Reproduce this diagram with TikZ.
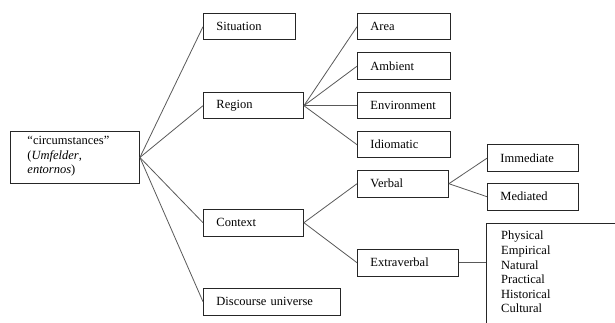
\documentclass[tikz,border=0pt]{standalone}
\usepackage{fontspec}
\setmainfont{Liberation Serif}
\usetikzlibrary{positioning}

\begin{document}
\begin{tikzpicture}[x=1pt,y=-1pt,font=\fontsize{12.5}{14.6}\selectfont,
					box line/.style={draw=black!85,line width=0.9pt},
					item node/.style={box line,rectangle,anchor=north west,align=left,inner xsep=13pt,inner ysep=0pt,text width=#1,minimum height=26.5pt},
					root node/.style={box line,rectangle,anchor=north west,align=left,text width=95pt,minimum width=129pt,minimum height=52pt,text depth=34pt},
					list node/.style={rectangle,anchor=north west,align=left,inner xsep=15pt,inner ysep=8pt,text width=100pt},
					link/.style={draw=black!65,line width=0.8pt}]
				\clip (0,0) rectangle (615,323);
				\node[root node] (root) at (10,131) {``circumstances''\\(\textit{Umfelder},\\\textit{entornos})};

				\node[item node=66pt] (situation) at (203,13) {Situation};
				\node[item node=74pt] (region) at (203,92) {Region};
				\node[item node=74pt] (context) at (203,209) {Context};
				\node[item node=111pt] (discourse) at (203,288) {Discourse universe};

				\node[item node=67pt] (area) at (357,13) {Area};
				\node[item node=67pt] (ambient) at (357,52.5) {Ambient};
				\node[item node=67pt] (environment) at (357,92) {Environment};
				\node[item node=67pt] (idiomatic) at (357,131) {Idiomatic};

				\node[item node=65pt] (verbal) at (357,170) {Verbal};
				\node[item node=75pt] (extraverbal) at (357,249) {Extraverbal};

				\node[item node=65pt] (immediate) at (487,144.5) {Immediate};
				\node[item node=65pt] (mediated) at (487,183) {Mediated};

				\node[list node] (kinds) at (486,223) {Physical\\Empirical\\Natural\\Practical\\Historical\\Cultural};
				% frame runs past the edge of the page
				\draw[box line] (kinds.north west) rectangle ++(200,130);

				\path[link]
				(root.east) edge (situation.west)
				(root.east) edge (region.west)
				(root.east) edge (context.west)
				(root.east) edge (discourse.west)
				(region.east) edge (area.west)
				(region.east) edge (ambient.west)
				(region.east) edge (environment.west)
				(region.east) edge (idiomatic.west)
				(context.east) edge (verbal.west)
				(context.east) edge (extraverbal.west)
				(verbal.east) edge (immediate.west)
				(verbal.east) edge (mediated.west)
				(extraverbal.east) edge (extraverbal.east -| kinds.west);
			\end{tikzpicture}
\end{document}
